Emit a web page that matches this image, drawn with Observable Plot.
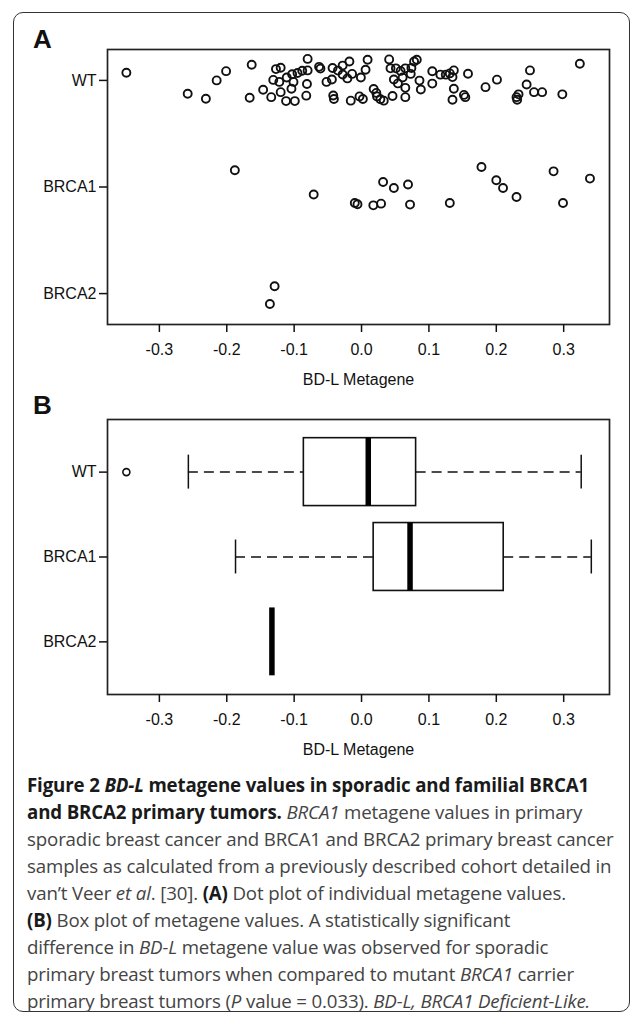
<!DOCTYPE html>
<html><head><meta charset="utf-8">
<script src="https://cdn.jsdelivr.net/npm/d3@7"></script>
<script src="https://cdn.jsdelivr.net/npm/@observablehq/plot@0.6"></script>
<style>
body{margin:0;background:#fff;width:632px;height:1014px;overflow:hidden;position:relative;font-family:"Liberation Sans",Arial,sans-serif}
#frame{position:absolute;left:13px;top:12px;width:617px;height:1000px;border:1.5px solid #333;border-radius:10px;box-sizing:border-box}
.panel{position:absolute;font:bold 26px "Liberation Sans",Arial,sans-serif;line-height:26px;color:#111}
#plotA{position:absolute;left:0;top:40px}
#plotB{position:absolute;left:0;top:410px}
#caption{position:absolute;left:27px;top:771px;font-family:"Open Sans",sans-serif;font-size:18.7px;line-height:27px;color:#444;white-space:nowrap;letter-spacing:-0.15px}
#caption b{color:#1a1a1a}
</style></head><body>
<div id="frame"></div>
<div class="panel" style="left:33px;top:26px">A</div>
<div class="panel" style="left:33px;top:392px">B</div>
<div id="plotA"></div>
<div id="plotB"></div>
<div id="caption">
<b>Figure 2 <i>BD-L</i> metagene values in sporadic and familial BRCA1</b><br>
<b>and BRCA2 primary tumors.</b> <i>BRCA1</i> metagene values in primary<br>
sporadic breast cancer and BRCA1 and BRCA2 primary breast cancer<br>
samples as calculated from a previously described cohort detailed in<br>
van’t Veer <i>et al</i>. [30]. <b>(A)</b> Dot plot of individual metagene values.<br>
<b>(B)</b> Box plot of metagene values. A statistically significant<br>
difference in <i>BD-L</i> metagene value was observed for sporadic<br>
primary breast tumors when compared to mutant <i>BRCA1</i> carrier<br>
primary breast tumors (<i>P</i> value = 0.033). <i>BD-L, BRCA1 Deficient-Like.</i>
</div>
<script>
// ---- data ----
const groups = ["WT", "BRCA1", "BRCA2"];
const xTicks = [-0.3, -0.2, -0.1, 0.0, 0.1, 0.2, 0.3];
const axisTitle = "BD-L Metagene";

const wtValues = [-0.349,-0.258,-0.231,-0.215,-0.201,-0.163,-0.166,-0.146,-0.134,-0.120,
 -0.112,-0.099,-0.104,-0.127,-0.120,-0.131,-0.122,-0.111,-0.103,-0.095,
 -0.088,-0.101,-0.081,-0.082,-0.080,-0.080,-0.063,-0.061,-0.052,-0.044,
 -0.042,-0.041,-0.043,-0.035,-0.028,-0.018,-0.028,-0.021,-0.014,-0.001,
 0.006,0.009,-0.016,-0.003,0.002,0.018,0.022,0.023,0.028,0.033,
 0.041,0.043,0.051,0.058,0.065,0.074,0.078,0.082,0.048,0.054,
 0.061,0.073,0.065,0.046,0.065,0.086,0.088,0.105,0.105,0.117,
 0.125,0.131,0.137,0.135,0.137,0.135,0.154,0.152,0.158,0.184,
 0.201,0.230,0.231,0.233,0.245,0.250,0.256,0.268,0.298,0.324];
const wtJitter = [0.072,-0.125,-0.172,0.0,0.087,0.147,-0.162,-0.087,-0.157,-0.110,
 -0.194,-0.194,-0.078,0.106,0.119,0.005,-0.014,0.028,0.058,0.070,
 0.091,-0.014,-0.033,-0.143,0.202,0.094,0.127,0.111,-0.014,0.009,
 -0.141,-0.174,0.117,0.092,0.139,0.178,0.056,0.019,0.061,0.028,
 0.100,0.194,-0.190,-0.150,-0.174,-0.080,-0.117,-0.150,-0.176,-0.190,
 0.197,0.113,0.113,0.089,0.113,0.117,0.178,0.194,0.009,-0.028,
 0.028,0.061,-0.070,-0.146,-0.157,-0.002,-0.085,0.086,-0.030,0.054,
 0.054,0.066,0.094,0.031,-0.078,-0.181,-0.157,-0.136,0.063,-0.063,
 0.007,-0.157,-0.181,-0.131,-0.038,0.094,-0.110,-0.110,-0.131,0.157];

const brca1Values = [-0.188,-0.071,-0.010,-0.006,0.0175,0.029,0.032,0.048,0.069,0.072,0.131,0.178,0.200,0.210,0.230,0.285,0.299,0.339];
const brca1Jitter = [0.157,-0.071,-0.150,-0.162,-0.172,-0.156,0.047,-0.009,0.023,-0.165,-0.150,0.188,0.063,-0.009,-0.094,0.147,-0.150,0.079];

const brca2Values = [-0.129, -0.136];
const brca2Jitter = [0.069, -0.097];

// box plot statistics
const boxLow    = [-0.257, -0.187, -0.133];
const boxQ1     = [-0.0856, 0.018, -0.133];
const boxMedian = [0.010, 0.072, -0.133];
const boxQ3     = [0.081, 0.211, -0.133];
const boxHigh   = [0.326, 0.341, -0.133];
const outlierGroup = ["WT"];
const outlierValue = [-0.349];

// ---- build tables ----
const pos = g => groups.length - groups.indexOf(g);
const dots = [];
[[groups[0], wtValues, wtJitter], [groups[1], brca1Values, brca1Jitter], [groups[2], brca2Values, brca2Jitter]]
  .forEach(([g, vals, jit]) => vals.forEach((v, i) => dots.push({group: g, value: v, y: pos(g) + jit[i]})));
const boxes = groups.map((g, i) => ({group: g, p: pos(g), low: boxLow[i], q1: boxQ1[i], median: boxMedian[i], q3: boxQ3[i], high: boxHigh[i]}));
const outliers = outlierGroup.map((g, i) => ({group: g, p: pos(g), value: outlierValue[i]}));

const xDomain = [-0.377, 0.368];
const font = "'Liberation Sans', Arial, sans-serif";
const common = {
  width: 632, height: 350,
  marginTop: 9, marginBottom: 66, marginLeft: 107, marginRight: 23,
  style: {fontFamily: font, fontSize: "16px", color: "#111", background: "transparent", overflow: "visible"},
  x: {domain: xDomain}
};
const axisX = () => Plot.axisX({ticks: xTicks, tickFormat: d => d.toFixed(1), tickSize: 8, tickPadding: 11,
  strokeWidth: 1.5, label: axisTitle, labelAnchor: "center", labelArrow: "none", labelOffset: 60, fontSize: 16});
const axisY = () => Plot.axisY({ticks: groups.map(pos), tickFormat: v => groups[groups.length - v], tickSize: 8,
  tickPadding: 3, strokeWidth: 1.5, label: null, fontSize: 16});

const plotA = Plot.plot({
  ...common,
  y: {domain: [0.71, 3.29]},
  marks: [
    Plot.frame({stroke: "#222", strokeWidth: 1.7}),
    axisX(), axisY(),
    Plot.dot(dots, {x: "value", y: "y", r: 4, stroke: "#111", strokeWidth: 1.9, fill: "none"})
  ]
});
document.getElementById("plotA").appendChild(plotA);

const plotB = Plot.plot({
  ...common,
  y: {domain: [0.38, 3.62]},
  marks: [
    Plot.frame({stroke: "#222", strokeWidth: 1.7}),
    axisX(), axisY(),
    Plot.ruleY(boxes, {x1: "low", x2: "q1", y: "p", stroke: "#111", strokeWidth: 1.5, strokeDasharray: "10,6"}),
    Plot.ruleY(boxes, {x1: "q3", x2: "high", y: "p", stroke: "#111", strokeWidth: 1.5, strokeDasharray: "10,6"}),
    Plot.ruleX(boxes, {x: "low", y1: d => d.p - 0.2, y2: d => d.p + 0.2, stroke: "#111", strokeWidth: 1.5}),
    Plot.ruleX(boxes, {x: "high", y1: d => d.p - 0.2, y2: d => d.p + 0.2, stroke: "#111", strokeWidth: 1.5}),
    Plot.rect(boxes, {x1: "q1", x2: "q3", y1: d => d.p - 0.4, y2: d => d.p + 0.4, fill: "white", stroke: "#111", strokeWidth: 1.6}),
    Plot.ruleX(boxes, {x: "median", y1: d => d.p - 0.4, y2: d => d.p + 0.4, stroke: "#000", strokeWidth: 5.5}),
    Plot.dot(outliers, {x: "value", y: "p", r: 3.5, stroke: "#111", strokeWidth: 1.6, fill: "none"})
  ]
});
document.getElementById("plotB").appendChild(plotB);
</script>
</body></html>
